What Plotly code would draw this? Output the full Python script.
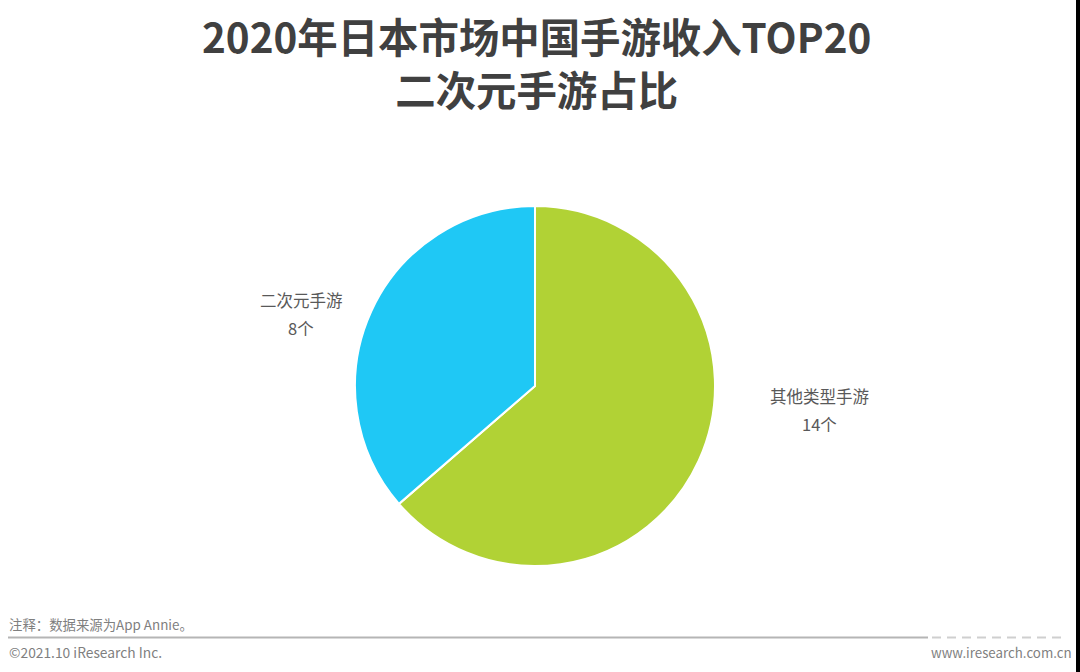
import plotly.graph_objects as go

W = 1080
H = 672
labels = ['其他类型手游', '二次元手游']
values = [14, 8]
colors = ['#B1D235', '#1FC8F5']
units = ['14个', '8个']
title_lines = ['2020年日本市场中国手游收入TOP20', '二次元手游占比']
FONT = 'Noto Sans CJK SC'

fig = go.Figure()
fig.add_trace(go.Pie(
    labels=labels, values=values, sort=False, direction='clockwise', rotation=0,
    marker=dict(colors=colors, line=dict(color='white', width=2)),
    textinfo='none', hoverinfo='label+value', showlegend=False,
    domain=dict(x=[355/W, 715/W], y=[1-566/H, 1-206/H]),
))


def txt(x, y, s, size, color='#595959', anchor='center'):
    fig.add_annotation(x=x/W, y=1-y/H, xref='paper', yref='paper', text=s, showarrow=False,
                       xanchor=anchor, yanchor='middle',
                       font=dict(family=FONT, size=size, color=color))


txt(536, 62, '<b>' + '</b><br><b>'.join(title_lines) + '</b>', 40.4, '#404040')
txt(301, 300, labels[1], 16.5)
txt(301, 328, units[1], 16.5)
txt(819, 396, labels[0], 16.5)
txt(819, 424, units[0], 16.5)
txt(7, 624, '注释：数据来源为App Annie。', 13.4, '#7F7F7F', 'left')
txt(7, 652, '©2021.10 iResearch Inc.', 13.8, '#7F7F7F', 'left')
txt(1074, 652, 'www.iresearch.com.cn', 13.3, '#7F7F7F', 'right')

fig.add_shape(type='line', xref='paper', yref='paper', x0=8/W, x1=928/W, y0=1-637.5/H, y1=1-637.5/H,
              line=dict(color='#B5B5B5', width=2))
# broken end of the rule
fig.add_shape(type='line', xref='paper', yref='paper', x0=932/W, x1=1066/W, y0=1-637.5/H, y1=1-637.5/H,
              line=dict(color='#CFCFCF', width=2, dash='9px,6px'))
fig.add_shape(type='rect', xref='paper', yref='paper', x0=1076/W, x1=1, y0=0, y1=1,
              line=dict(width=0), fillcolor='black')

fig.update_layout(width=W, height=H, margin=dict(l=0, r=0, t=0, b=0),
                  paper_bgcolor='white', plot_bgcolor='white')
# page has a default 8px body margin, drop it
fig.write_html("out.html", config={'displayModeBar': False},
               post_script="document.body.style.margin='0';document.body.style.overflow='hidden';")
